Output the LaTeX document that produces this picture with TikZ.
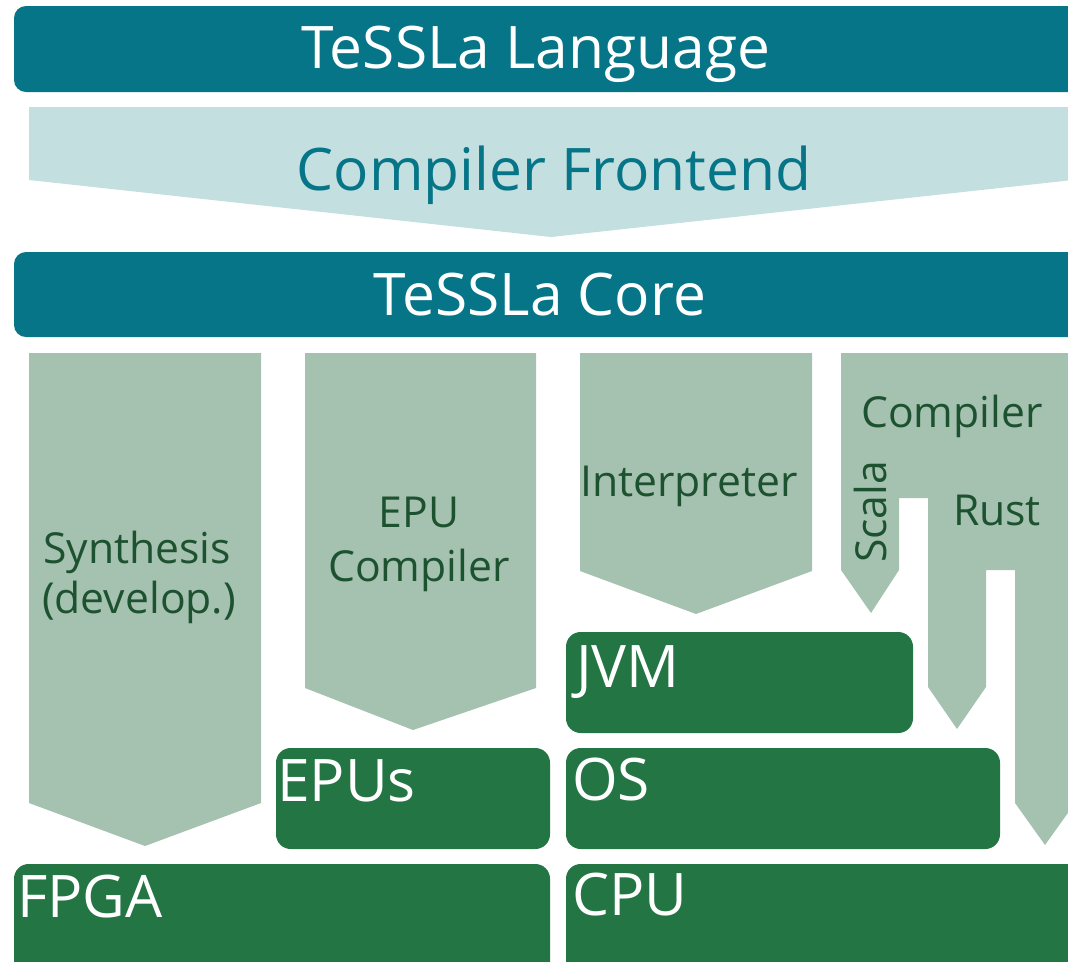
\documentclass[tikz,border=0pt]{standalone}
\usepackage{fontspec}
\setmainfont{Open Sans}
\definecolor{tealdark}{HTML}{057587}
\definecolor{teallight}{HTML}{C4DFDF}
\definecolor{arrowgreen}{HTML}{A5C1B0}
\definecolor{boxgreen}{HTML}{237643}
\definecolor{textgreen}{HTML}{1D5230}
\tikzset{
  bigtext/.style={inner sep=0pt, font=\fontsize{44}{48}\selectfont},
  smalltext/.style={inner sep=0pt, font=\fontsize{32}{37}\selectfont, text=textgreen},
  tealbox/.style={fill=tealdark, rounded corners=9pt},
  greenbox/.style={fill=boxgreen, rounded corners=11pt},
  arrowshape/.style={fill=arrowgreen},
  boxlabel/.style={bigtext, text=white, anchor=base west},
}
\begin{document}
\begin{tikzpicture}[x=0.75pt,y=-0.75pt]
\useasboundingbox (0,0) rectangle (1068,961);
\clip (0,0) rectangle (1068,961);

% top teal bars
\fill[tealbox] (14,6) rectangle (1100,92);
\node[bigtext, text=white, anchor=base] (lang) at (536,68) {TeSSLa Language};

\fill[teallight] (29,107) -- (1073,107) -- (1073,180) -- (551,237) -- (29,180) -- cycle;
\node[bigtext, text=tealdark, anchor=base] (front) at (554,190) {Compiler Frontend};

\fill[tealbox] (14,252) rectangle (1100,337);
\node[bigtext, text=white, anchor=base] (core) at (540,315) {TeSSLa Core};

% arrows
\fill[arrowshape] (29,353) -- (261,353) -- (261,803) -- (145,846) -- (29,803) -- cycle;
\node[smalltext, anchor=base] (synth) at (137,563) {Synthesis};
\node[smalltext, anchor=base] (devel) at (139,613) {(develop.)};

\fill[arrowshape] (305,353) -- (536,353) -- (536,688) -- (413,730) -- (305,688) -- cycle;
\node[smalltext, anchor=base] (epu) at (419,527) {EPU};
\node[smalltext, anchor=base] (epucomp) at (419,581) {Compiler};

\fill[arrowshape] (580,353) -- (812,353) -- (812,571) -- (696,614) -- (580,571) -- cycle;
\node[smalltext, anchor=base] (interp) at (689,496) {Interpreter};

\fill[arrowshape] (841,353) -- (1075,353) -- (1075,803) -- (1045,845) -- (1015,803)
  -- (1015,570) -- (986,570) -- (986,687) -- (957,729) -- (928,687) -- (928,498)
  -- (899,498) -- (899,570) -- (871,613) -- (841,570) -- cycle;
\node[smalltext, anchor=base] (comp) at (952,427) {Compiler};
\node[smalltext, anchor=base] (rust) at (997,525) {Rust};
\node[smalltext, anchor=base, rotate=90] (scala) at (886,512) {Scala};

% green boxes
\fill[greenbox] (566,632) rectangle (913,733);
\node[boxlabel] (jvm) at (576,687) {JVM};
\fill[greenbox] (276,748) rectangle (550,849);
\node[boxlabel] (epus) at (277,801) {EPUs};
\fill[greenbox] (566,748) rectangle (1000,849);
\node[boxlabel] (os) at (572,800) {OS};
\fill[greenbox] (14,864) rectangle (550,990);
\node[boxlabel] (fpga) at (17,917) {FPGA};
\fill[greenbox] (566,864) rectangle (1100,990);
\node[boxlabel] (cpu) at (572,915) {CPU};
\end{tikzpicture}
\end{document}
